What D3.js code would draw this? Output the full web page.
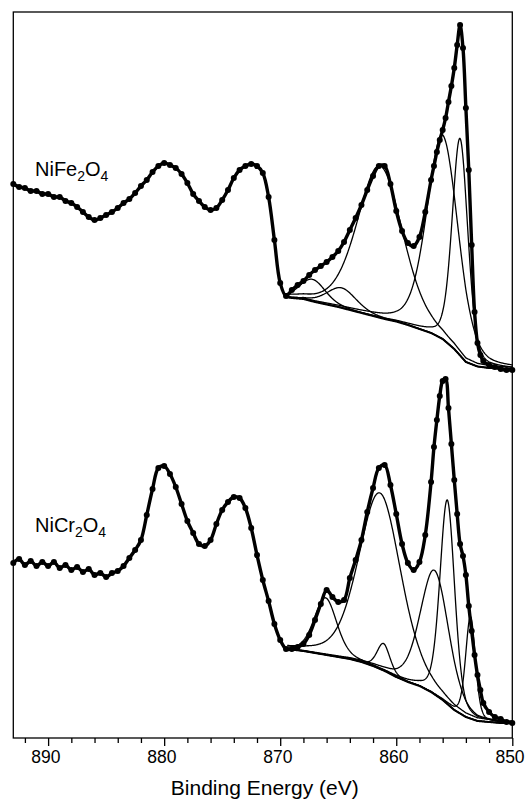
<!DOCTYPE html>
<html><head><meta charset="utf-8">
<script src="https://cdn.jsdelivr.net/npm/d3@7"></script>
<style>body{margin:0;background:#fff}svg{display:block}</style>
</head><body><svg id="chart" width="525" height="799"></svg>
<script>
// ---------- data ----------
const energies = [893,892.5,892,891.5,891,890.5,890,889.5,889,888.5,888,887.5,887,886.5,886,885.5,885,884.5,884,883.5,883,882.5,882,881.5,881,880.5,880,879.5,879,878.5,878,877.5,877,876.5,876,875.5,875,874.5,874,873.5,873,872.5,872,871.5,871,870.5,870,869.5,869,868.5,868,867.5,867,866.5,866,865.5,865,864.5,864,863.5,863,862.5,862,861.5,861,860.5,860,859.5,859,858.5,858,857.5,857,856.75,856.5,856.25,856,855.75,855.5,855.25,855,854.75,854.5,854.25,854,853.75,853.5,853.25,853,852.75,852.5,852,851.5,851,850.5,850];

const feIntensity = [554,551,550,547,547,544,544,541,541,537,535,531,526,521,518,520,523,526,530,535,539,545,552,558,566,572,575,573,570,564,555,544,537,531,528,530,538,548,560,568,572,574,572,565,541,498,455,442,448,453,457,463,468,472,476,481,487,496,508,520,533,548,562,572,572,554,527,507,495,492,501,526,558,572,586,598,608,620,636,652,670,693,713,690,630,568,493,426,395,383,377,373,371,369,368,368];

const crIntensity = [175,179,173,177,172,176,172,176,170,173,168,171,166,169,163,165,161,165,167,172,180,188,198,223,249,270,272,264,251,234,217,205,194,192,198,214,228,236,241,240,230,210,183,158,137,114,98,89,89,91,94,103,118,134,148,141,136,138,160,178,198,226,250,270,273,253,224,194,175,168,176,203,256,291,318,342,357,359,330,294,258,224,194,182,163,132,107,83,63,48,35,26,21,19,16,15];

const feBgEnergy = [869.6,869,868,867,866,865,864,863,862,861,860,859,858,857,856,855,854,853,852,851,850];
const feBgIntensity = [441,440,439,436,433.5,431,428,425,422,419,416.5,413,409,405,399,389,376,371.5,370,369.5,369];
const crBgEnergy = [869.4,868,867,866,865,864,863,862,861,860,859,858,857,856,855,854,853,852,851,850];
const crBgIntensity = [89,87,85,83,81,79,76,72,67,61,56,52,46,38,28,21,17,16,15,15];

// fitted components: centre (eV), height above background, FWHM (eV)
const fePeakCentres = [867.2,864.7,861.4,856.0,854.5];
const fePeakHeights = [22,20,152,204,217];
const fePeakFwhm    = [2.6,3.0,4.6,3.2,1.6];
const crPeakCentres = [866.1,861.4,861.1,856.7,855.6,853.6];
const crPeakHeights = [57,176,27,124,204,102];
const crPeakFwhm    = [2.3,4.3,1.3,2.9,1.5,1.0];

const majorTicks = [890,880,870,860,850];
const minorTicks = [892,888,886,884,882,878,876,874,872,868,866,864,862,858,856,854,852];
const sampleNames = ["NiFe", "NiCr"];
const sampleLabelLevel = [562, 206];

// ---------- layout ----------
const svg = d3.select("#chart");
const M = {l: 13.3, r: 512.3, t: 12, b: 738};
const x = d3.scaleLinear().domain([893, 850]).range([M.l, M.r]);
const y = d3.scaleLinear().domain([0, 726]).range([M.b, M.t]);
const font = "Liberation Sans, Arial, Helvetica, sans-serif";

const glMix = 0.3;
function peakShape(e, c, h, w) {
  const d = (e - c) / w;
  return h * ((1 - glMix) * Math.exp(-4 * Math.LN2 * d * d) + glMix / (1 + 4 * d * d));
}

const plot = svg.append("g");

function drawSpectrum(intens, bgE, bgI, centres, heights, fwhm) {
  const bg = d3.scaleLinear().domain(bgE).range(bgI);
  const grid = d3.range(bgE[0], 849.99, -0.04);
  const line = d3.line().x(d => x(d[0])).y(d => y(d[1]));
  plot.append("path").attr("d", line.curve(d3.curveMonotoneX)(grid.map(e => [e, bg(e)])))
    .attr("fill", "none").attr("stroke", "#000").attr("stroke-width", 2);
  centres.forEach((c, i) => {
    plot.append("path")
      .attr("d", d3.line().x(d => x(d[0])).y(d => y(d[1]))(grid.map(e => [e, bg(e) + peakShape(e, c, heights[i], fwhm[i])])))
      .attr("fill", "none").attr("stroke", "#000").attr("stroke-width", 1.3);
  });
  const pts = energies.map((e, i) => [e, intens[i]]);
  plot.append("path").attr("d", d3.line().x(d => x(d[0])).y(d => y(d[1])).curve(d3.curveCatmullRom)(pts))
    .attr("fill", "none").attr("stroke", "#000").attr("stroke-width", 3.4).attr("stroke-linejoin", "round");
  plot.append("g").selectAll("circle").data(pts).join("circle")
    .attr("cx", d => x(d[0])).attr("cy", d => y(d[1])).attr("r", 3).attr("fill", "#000");
}

drawSpectrum(feIntensity, feBgEnergy, feBgIntensity, fePeakCentres, fePeakHeights, fePeakFwhm);
drawSpectrum(crIntensity, crBgEnergy, crBgIntensity, crPeakCentres, crPeakHeights, crPeakFwhm);

svg.append("rect").attr("x", M.l).attr("y", M.t).attr("width", M.r - M.l).attr("height", M.b - M.t)
  .attr("fill", "none").attr("stroke", "#000").attr("stroke-width", 1.3);

const axisG = svg.append("g").attr("transform", `translate(0,${M.b})`);
axisG.call(d3.axisBottom(x).tickValues(majorTicks).tickSize(8).tickPadding(5).tickFormat(d3.format("d")))
  .call(g => g.select(".domain").remove())
  .call(g => g.selectAll("line").attr("stroke-width", 1.3))
  .call(g => g.selectAll("text").attr("font-family", font).attr("font-size", 17.5).attr("fill", "#000").attr("dx", -2.8));
axisG.append("g").call(d3.axisBottom(x).tickValues(minorTicks).tickSize(5).tickFormat(""))
  .call(g => g.select(".domain").remove())
  .call(g => g.selectAll("line").attr("stroke-width", 1.3));

svg.append("text").attr("x", (M.l + M.r) / 2 + 2).attr("y", 795).attr("text-anchor", "middle")
  .attr("font-family", font).attr("font-size", 21).attr("fill", "#000").text("Binding Energy (eV)");

sampleNames.forEach((n, i) => {
  const t = svg.append("text").attr("x", 35).attr("y", y(sampleLabelLevel[i])).attr("font-family", font).attr("font-size", 20).attr("fill", "#000");
  t.append("tspan").text(n);
  t.append("tspan").attr("font-size", 14).attr("dy", 5).text("2");
  t.append("tspan").attr("dy", -5).text("O");
  t.append("tspan").attr("font-size", 14).attr("dy", 5).text("4");
});
</script>
</body></html>
